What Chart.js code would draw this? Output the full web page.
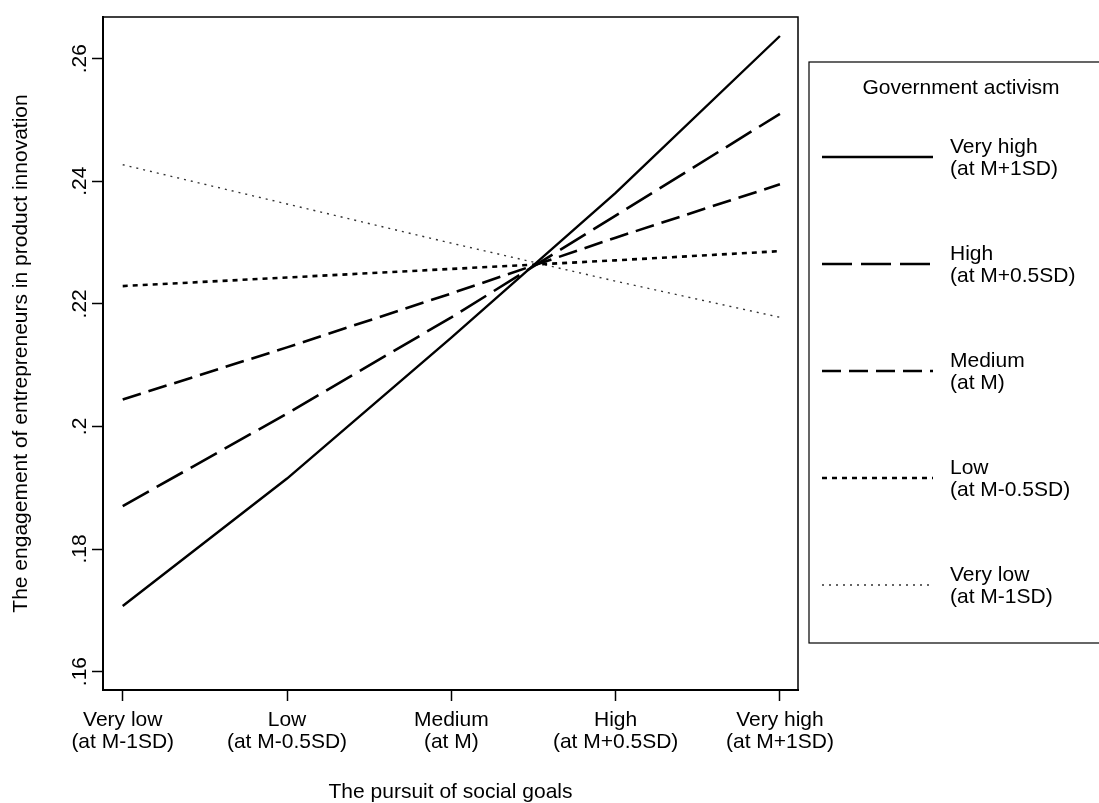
<!DOCTYPE html>
<html>
<head>
<meta charset="utf-8">
<script src="https://cdn.jsdelivr.net/npm/chart.js@4"></script>
<style>
  body { margin: 0; background: #fff; }
  canvas { display: block; }
</style>
</head>
<body>
<canvas id="chart" width="1099" height="803"></canvas>
<script>
// Data
const xPositions = [0, 1, 2, 3, 4];
const xLabels = [
  ['Very low', '(at M-1SD)'],
  ['Low', '(at M-0.5SD)'],
  ['Medium', '(at M)'],
  ['High', '(at M+0.5SD)'],
  ['Very high', '(at M+1SD)']
];
const yTicks = [0.16, 0.18, 0.20, 0.22, 0.24, 0.26];

const veryHigh = [0.1707, 0.1915, 0.2145, 0.2381, 0.2637];
const high     = [0.1870, 0.2021, 0.2178, 0.2344, 0.2510];
const medium   = [0.2044, 0.2129, 0.2217, 0.2308, 0.2395];
const low      = [0.2229, 0.2243, 0.2257, 0.2271, 0.2286];
const veryLow  = [0.2427, 0.2363, 0.2299, 0.2237, 0.2178];

const legendTitle = 'Government activism';
const legendLabels = [
  ['Very high', '(at M+1SD)'],
  ['High', '(at M+0.5SD)'],
  ['Medium', '(at M)'],
  ['Low', '(at M-0.5SD)'],
  ['Very low', '(at M-1SD)']
];

const FONT = 'Liberation Sans, Arial, sans-serif';
const FONT_SIZE = 21;

function toPoints(values) {
  return values.map((v, i) => ({ x: xPositions[i], y: v }));
}

function series(label, values, width, dash, color) {
  return {
    label: label,
    data: toPoints(values),
    borderColor: color || '#000',
    borderWidth: width,
    borderDash: dash,
    borderCapStyle: 'butt',
    pointRadius: 0,
    tension: 0,
    fill: false
  };
}

// rotated y tick labels, plot frame and the legend box
const extras = {
  id: 'extras',
  afterDraw(chart) {
    const ctx = chart.ctx;
    const area = chart.chartArea;
    const y = chart.scales.y;

    ctx.save();
    ctx.strokeStyle = '#000';
    ctx.lineWidth = 1.5;
    ctx.beginPath();
    ctx.moveTo(area.left, area.top);
    ctx.lineTo(area.right, area.top);
    ctx.lineTo(area.right, area.bottom);
    ctx.stroke();

    ctx.fillStyle = '#000';
    ctx.font = FONT_SIZE + 'px ' + FONT;
    ctx.textAlign = 'center';
    ctx.textBaseline = 'middle';
    y.ticks.forEach(t => {
      const py = y.getPixelForValue(t.value);
      ctx.save();
      ctx.translate(80, py);
      ctx.rotate(-Math.PI / 2);
      ctx.fillText(String(+t.value.toFixed(2)).replace(/^0/, ''), 0, 0);
      ctx.restore();
    });

    // legend
    const boxX = 809, boxY = 62, boxH = 581;
    ctx.lineWidth = 1.2;
    ctx.strokeRect(boxX, boxY, 400, boxH);
    ctx.fillText(legendTitle, 961, 88);
    ctx.textAlign = 'left';
    chart.data.datasets.forEach((ds, i) => {
      const ly = 157 + i * 107;
      ctx.save();
      ctx.strokeStyle = ds.borderColor;
      ctx.lineWidth = ds.borderWidth;
      ctx.setLineDash(ds.borderDash || []);
      ctx.beginPath();
      ctx.moveTo(822, ly);
      ctx.lineTo(933, ly);
      ctx.stroke();
      ctx.restore();
      ctx.fillText(legendLabels[i][0], 950, ly - 10);
      ctx.fillText(legendLabels[i][1], 950, ly + 12);
    });
    ctx.restore();
  }
};

const ctx = document.getElementById('chart').getContext('2d');
const chart = new Chart(ctx, {
  type: 'line',
  data: {
    datasets: [
      series('Very high', veryHigh, 2.4, []),
      series('High', high, 2.6, [30, 9]),
      series('Medium', medium, 2.6, [19, 8]),
      series('Low', low, 2.6, [5, 5]),
      series('Very low', veryLow, 1.4, [2, 5], '#333')
    ]
  },
  options: {
    responsive: false,
    animation: false,
    layout: { padding: { top: 17, right: 301, left: 0, bottom: 0 } },
    plugins: {
      legend: { display: false },
      tooltip: { enabled: false }
    },
    scales: {
      x: {
        type: 'linear',
        min: -0.12,
        max: 4.11,
        afterBuildTicks(scale) {
          scale.ticks = xPositions.map(v => ({ value: v }));
        },
        afterFit(scale) { scale.height = 113; },
        grid: {
          drawOnChartArea: false,
          drawTicks: true,
          tickLength: 11,
          tickWidth: 1.5,
          tickColor: '#000'
        },
        border: { display: true, color: '#000', width: 2 },
        ticks: {
          color: '#000',
          padding: 8,
          maxRotation: 0,
          autoSkip: false,
          font: { family: FONT, size: FONT_SIZE, lineHeight: 1.05 },
          callback: (v) => xLabels[v]
        },
        title: {
          display: true,
          text: 'The pursuit of social goals',
          color: '#000',
          font: { family: FONT, size: FONT_SIZE, lineHeight: 1.0 },
          padding: { top: 0, bottom: 0 }
        }
      },
      y: {
        min: 0.157,
        max: 0.2668,
        afterBuildTicks(scale) {
          scale.ticks = yTicks.map(v => ({ value: v }));
        },
        afterFit(scale) { scale.width = 103; },
        grid: {
          drawOnChartArea: false,
          drawTicks: true,
          tickLength: 11,
          tickWidth: 1.5,
          tickColor: '#000'
        },
        border: { display: true, color: '#000', width: 2 },
        ticks: { display: false },
        title: {
          display: true,
          text: 'The engagement of entrepreneurs in product innovation',
          color: '#000',
          font: { family: FONT, size: FONT_SIZE },
          padding: { top: 9, bottom: 0 }
        }
      }
    }
  },
  plugins: [extras]
});
</script>
</body>
</html>
